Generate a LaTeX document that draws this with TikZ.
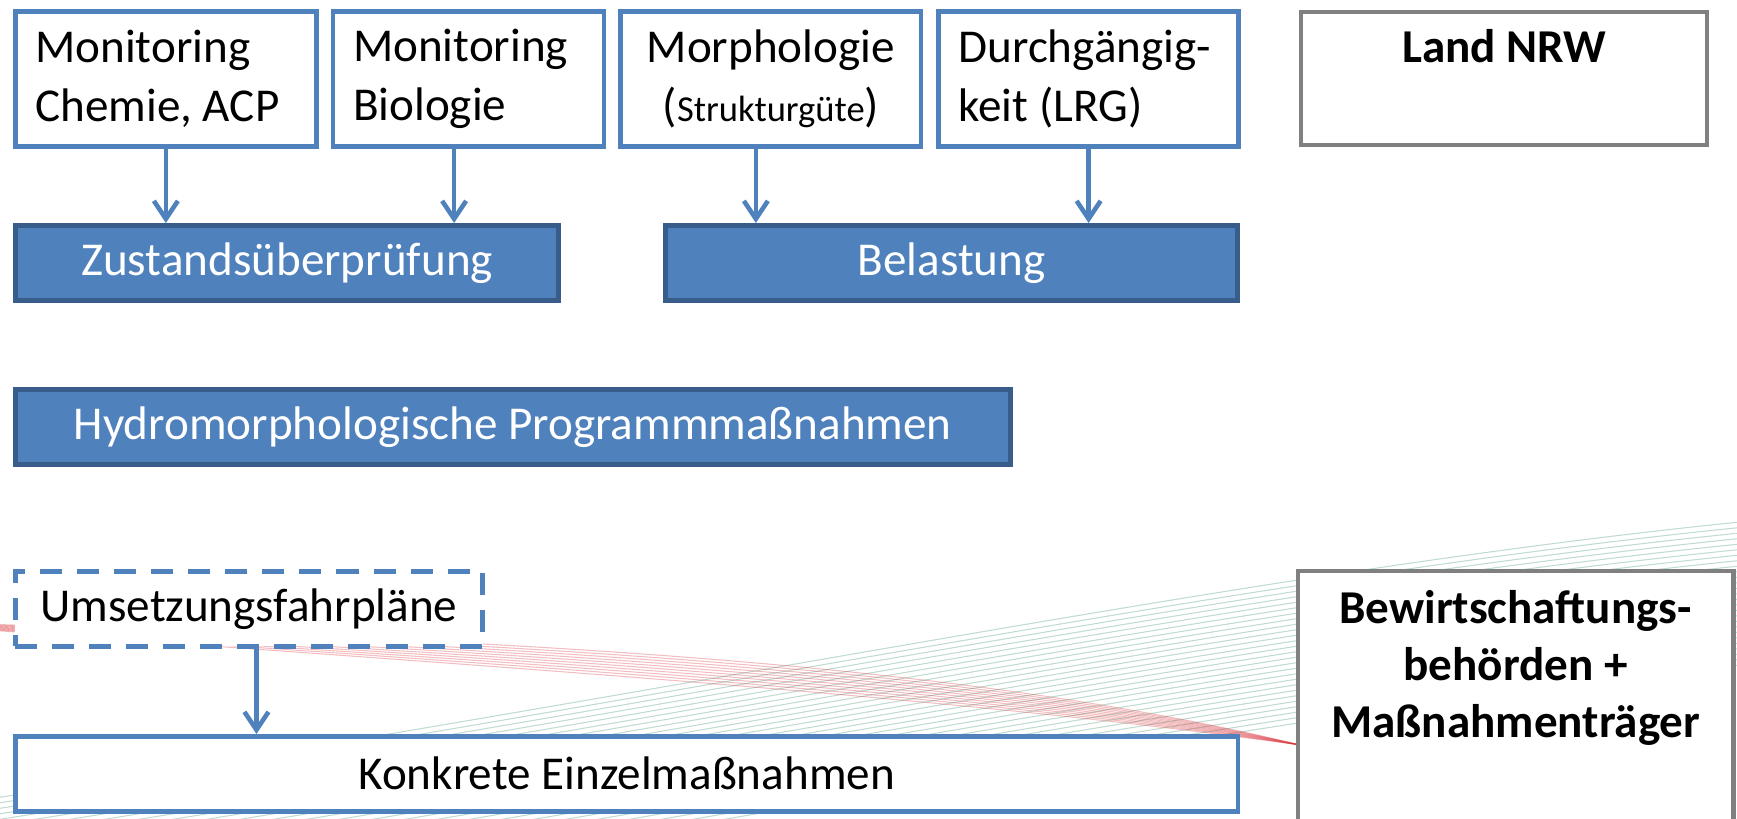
\documentclass[tikz,border=0pt]{standalone}
\usepackage{fontspec}
\setmainfont{Carlito}
\usetikzlibrary{arrows.meta,calc,positioning}
\frenchspacing

\definecolor{nrwblue}{RGB}{79,129,189}
\definecolor{nrwdark}{RGB}{56,93,138}
\definecolor{nrwgray}{RGB}{128,128,128}
\definecolor{swoosh}{RGB}{150,195,175}
\definecolor{swooshred}{RGB}{215,40,50}

\tikzset{
  topbox/.style={draw=nrwblue, fill=white, line width=1.3pt, minimum height=1.35cm, inner xsep=0.2cm, inner ysep=0pt},
  fillbar/.style={draw=nrwdark, fill=nrwblue, line width=1.4pt, minimum height=0.75cm, inner sep=0pt, text=white},
  plainbar/.style={draw=nrwblue, fill=white, line width=1.3pt, minimum height=0.75cm, inner sep=0pt},
  rolebox/.style={draw=nrwgray, fill=white, line width=1.2pt},
  lbl/.style={font=\fontsize{13.4pt}{16.2pt}\selectfont\bfseries, align=center, inner sep=0pt},
  flow/.style={->, nrwblue, line width=1.3pt},
}

\begin{document}
\begin{tikzpicture}[x=0.01cm, y=-0.01cm, >={Straight Barb[length=0.18cm,width=0.24cm]}, node distance=0.12cm, font=\fontsize{13.4pt}{16.6pt}\selectfont]
\useasboundingbox (0,0) rectangle (1737,819);

% background lines
\foreach \i in {0,...,26}
  \draw[swoosh, opacity=0.6, line width=0.3pt] (-50,805+5.5*\i) .. controls (700,690+5.5*\i) and (1250,570+5.5*\i) .. (1760,520+5.5*\i);
\foreach \j in {0,...,9}
  \draw[swooshred, opacity=0.3, line width=0.3pt] (-20,624+0.6*\j) .. controls (500,640+3*\j) and (950,660+4*\j) .. (1300,745);

% top row
\node[topbox, text width=2.61cm, align=flush left, anchor=north west] (chem) at (13,9) {Monitoring\\Chemie, ACP};
\node[topbox, text width=2.31cm, align=flush left] [right=of chem] (bio) {Monitoring\\Biologie};
\node[topbox, text width=2.60cm, align=flush center] [right=of bio] (morph) {Morphologie\\({\fontsize{10.4pt}{12pt}\selectfont Strukturgüte})};
\node[topbox, text width=2.60cm, align=flush left] [right=0.13cm of morph] (lrg) {Durchgängig-\\keit (LRG)};

\node[rolebox, minimum width=4.06cm, minimum height=1.33cm, anchor=north west] (nrw) at (1299,10) {};
\node[lbl] [below=0.19cm of nrw.north] (nrwtext) {Land NRW};

% bars
\node[fillbar, minimum width=5.43cm, anchor=north west] (zust) at (13,223) {Zustandsüberprüfung};
\node[fillbar, minimum width=5.72cm, anchor=north west] (bel) at (663,223) {Belastung};
\node[fillbar, minimum width=9.94cm, anchor=north west] (hydro) at (13,387) {Hydromorphologische Programmmaßnahmen};

\node[plainbar, dash pattern=on 0.22cm off 0.15cm, minimum width=4.67cm, anchor=north west] (umsetz) at (13,569) {Umsetzungsfahrpläne};
\node[plainbar, minimum width=12.22cm, anchor=north west] (konk) at (13,734) {Konkrete Einzelmaßnahmen};

\node[rolebox, minimum width=4.35cm, minimum height=3cm, anchor=north west] (bew) at (1296,569) {};
\node[lbl] [below=0.21cm of bew.north] (bewtext) {Bewirtschaftungs-\\behörden +\\Maßnahmenträger};

\coordinate (bioout) at ([xshift=-0.145cm]bio.south);
\coordinate (morphout) at ([xshift=-0.15cm]morph.south);
\coordinate (umsetzout) at ([xshift=0.075cm]umsetz.south);

\path[flow]
  (chem.south) edge (chem.south |- zust.north)
  (bioout) edge (bioout |- zust.north)
  (morphout) edge (morphout |- bel.north)
  (lrg.south) edge (lrg.south |- bel.north)
  (umsetzout) edge (umsetzout |- konk.north);
\end{tikzpicture}
\end{document}
